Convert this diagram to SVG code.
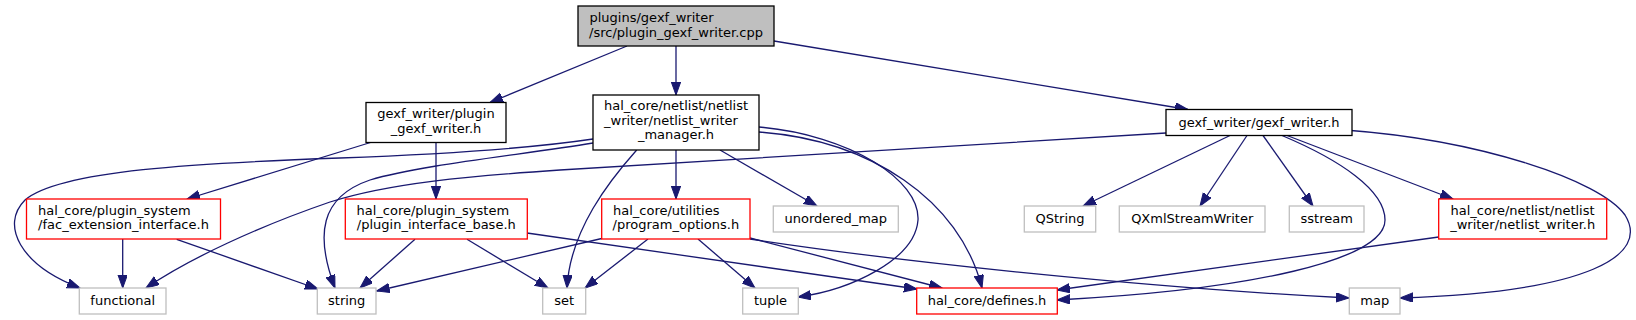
<svg xmlns="http://www.w3.org/2000/svg" width="1636" height="320" viewBox="0 0 1636 320">
<style>
text{font-family:"DejaVu Sans","Liberation Sans",sans-serif;font-size:13px;fill:#000}
.m{text-anchor:middle}
rect{stroke-width:1.3}
.root{fill:#bfbfbf;stroke:#000}
.int{fill:#fff;stroke:#000}
.red{fill:#fff;stroke:#ff0000}
.ext{fill:#fff;stroke:#bfbfbf}
#edges path{fill:none;stroke:#191970;stroke-width:1.3;marker-end:url(#arr)}
</style>
<defs>
<marker id="arr" markerUnits="userSpaceOnUse" markerWidth="15" markerHeight="11" refX="13" refY="4.7" orient="auto">
<path d="M0,0 L13,4.7 L0,9.4 z" fill="#191970" stroke="#191970" stroke-width="1"/>
</marker>
</defs>
<rect width="1636" height="320" fill="#fff"/>
<g id="edges">
<path d="M627,46 L490,102.5"/>
<path d="M676,46 L676,95"/>
<path d="M774,41 L1188,109.5"/>
<path d="M370.5,142.5 L187,199"/>
<path d="M436,142.5 L436,199"/>
<path d="M593,139 C520,150 420,155 340,158 C200,163 60,170 25,200 C0,225 20,265 80,288"/>
<path d="M593,143 C520,155 420,165 370,180 C320,197 315,235 335,288"/>
<path d="M636.7,150 C610,180 570,230 567,288"/>
<path d="M676,150 L676,199"/>
<path d="M720,150 L817,206"/>
<path d="M759,127 C850,135 920,180 918,220 C915,260 850,290 798,297"/>
<path d="M759,132 C870,140 960,200 982,288"/>
<path d="M1166,133 C900,149 650,164 560,170 C470,176 390,183 330,202 C260,226 190,258 146,288"/>
<path d="M1230,135.5 L1083,206"/>
<path d="M1247,135.5 L1200,206"/>
<path d="M1263,135.5 L1313,206"/>
<path d="M1282,135.5 C1340,160 1385,190 1385,220 C1385,260 1250,290 1057,300"/>
<path d="M1287,135.5 L1453,199"/>
<path d="M1345,130 C1480,140 1600,180 1625,215 C1650,255 1590,292 1400,298"/>
<path d="M1438.7,237 L1057,290"/>
<path d="M601.7,238.5 L376.7,291"/>
<path d="M648,239 L585,288"/>
<path d="M698,239 L755,288"/>
<path d="M750,238 L942,288"/>
<path d="M750,239 C900,262 1150,288 1349,298"/>
<path d="M415,239.3 L360,288"/>
<path d="M467,239.3 L548,288"/>
<path d="M527,233 L917,289"/>
<path d="M122.7,239 L122.7,288"/>
<path d="M176.7,239.3 L318,289"/>
</g>
<g id="n_root"><rect class="root" x="578" y="6" width="196" height="40"/><text x="589.5" y="22">plugins/gexf_writer</text><text class="m" x="676" y="36.5">/src/plugin_gexf_writer.cpp</text></g>
<g id="n_plugin_gexf_writer_h"><rect class="int" x="366" y="102.5" width="140" height="40"/><text x="377.3" y="118">gexf_writer/plugin</text><text class="m" x="436" y="132.5">_gexf_writer.h</text></g>
<g id="n_netlist_writer_manager_h"><rect class="int" x="593" y="95" width="166" height="55"/><text x="604" y="110">hal_core/netlist/netlist</text><text x="604" y="124.5">_writer/netlist_writer</text><text class="m" x="676" y="139">_manager.h</text></g>
<g id="n_gexf_writer_h"><rect class="int" x="1166" y="109.5" width="186" height="26"/><text class="m" x="1259" y="126.5">gexf_writer/gexf_writer.h</text></g>
<g id="n_fac_extension_interface_h"><rect class="red" x="26.5" y="199" width="194" height="40"/><text x="38" y="214.5">hal_core/plugin_system</text><text class="m" x="123.5" y="229">/fac_extension_interface.h</text></g>
<g id="n_plugin_interface_base_h"><rect class="red" x="345.3" y="199" width="182" height="40"/><text x="356.5" y="214.5">hal_core/plugin_system</text><text class="m" x="436.3" y="229">/plugin_interface_base.h</text></g>
<g id="n_program_options_h"><rect class="red" x="601.7" y="199" width="148.3" height="40"/><text x="613" y="214.5">hal_core/utilities</text><text class="m" x="675.9" y="229">/program_options.h</text></g>
<g id="n_unordered_map"><rect class="ext" x="773.3" y="206" width="125" height="26"/><text class="m" x="835.8" y="223">unordered_map</text></g>
<g id="n_QString"><rect class="ext" x="1024.3" y="206" width="71.4" height="26"/><text class="m" x="1060" y="223">QString</text></g>
<g id="n_QXmlStreamWriter"><rect class="ext" x="1119.3" y="206" width="145.7" height="26"/><text class="m" x="1192.2" y="223">QXmlStreamWriter</text></g>
<g id="n_sstream"><rect class="ext" x="1289.3" y="206" width="74.7" height="26"/><text class="m" x="1326.7" y="223">sstream</text></g>
<g id="n_netlist_writer_h"><rect class="red" x="1438.7" y="199" width="168" height="40"/><text x="1450.5" y="214.5">hal_core/netlist/netlist</text><text class="m" x="1522.7" y="229">_writer/netlist_writer.h</text></g>
<g id="n_functional"><rect class="ext" x="79.3" y="288" width="86.7" height="26"/><text class="m" x="122.7" y="305">functional</text></g>
<g id="n_string"><rect class="ext" x="317.3" y="288" width="58.7" height="26"/><text class="m" x="346.7" y="305">string</text></g>
<g id="n_set"><rect class="ext" x="542.7" y="288" width="43" height="26"/><text class="m" x="564.2" y="305">set</text></g>
<g id="n_tuple"><rect class="ext" x="742.7" y="288" width="55.6" height="26"/><text class="m" x="770.5" y="305">tuple</text></g>
<g id="n_defines_h"><rect class="red" x="916.7" y="288" width="140.6" height="26"/><text class="m" x="987" y="305">hal_core/defines.h</text></g>
<g id="n_map"><rect class="ext" x="1349.3" y="288" width="50.7" height="26"/><text class="m" x="1374.7" y="305">map</text></g>
</svg>
